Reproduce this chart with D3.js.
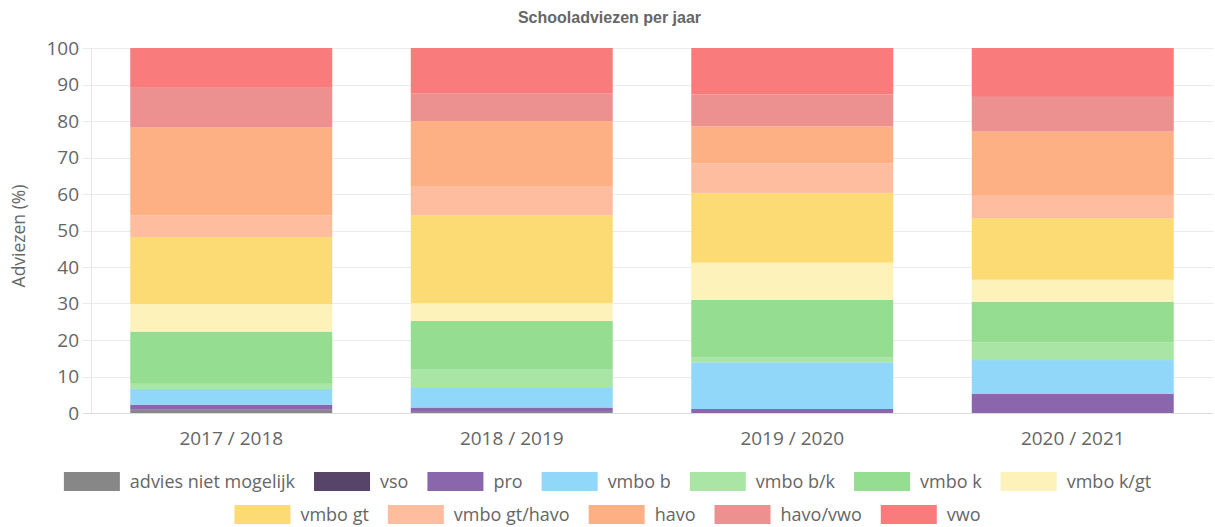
<!DOCTYPE html>
<html>
<head>
<meta charset="utf-8">
<script src="https://cdn.jsdelivr.net/npm/d3@7"></script>
<style>
  body { margin: 0; background: #fff; }
  svg { display: block; font-family: "Open Sans", sans-serif; }
</style>
</head>
<body>
<div id="chart"></div>
<script>
// School years on the x axis
const years = ["2017 / 2018", "2018 / 2019", "2019 / 2020", "2020 / 2021"];
// Advice types, bottom to top of each stack
const adviceTypes = ["advies niet mogelijk", "vso", "pro", "vmbo b", "vmbo b/k", "vmbo k",
   "vmbo k/gt", "vmbo gt", "vmbo gt/havo", "havo", "havo/vwo", "vwo"];
const adviceColors = ["#878787", "#574569", "#8a67ad", "#91d7fa", "#a9e6a6", "#95dd90",
   "#fdf2b9", "#fddb74", "#fdbd9e", "#fcb084", "#ec9090", "#f97b7b"];
// Percentages per advice type, one value per school year
const adviesNietMogelijk = [0.8, 0.3, 0.0, 0.0];
const vso = [0.1, 0.0, 0.0, 0.0];
const pro = [1.4, 1.2, 1.1, 5.2];
const vmboB = [4.3, 5.6, 12.8, 9.3];
const vmboBK = [1.4, 4.75, 1.4, 4.9];
const vmboK = [14.3, 13.35, 15.7, 11.1];
const vmboKGt = [7.5, 4.9, 10.2, 6.0];
const vmboGt = [18.4, 24.0, 19.1, 16.9];
const vmboGtHavo = [5.9, 7.9, 8.1, 6.1];
const havo = [24.1, 18.0, 10.1, 17.6];
const havoVwo = [11.1, 7.5, 8.8, 9.5];
const vwo = [10.7, 12.5, 12.7, 13.4];
const yTicks = [0, 10, 20, 30, 40, 50, 60, 70, 80, 90, 100];

const seriesValues = [adviesNietMogelijk, vso, pro, vmboB, vmboBK, vmboK,
   vmboKGt, vmboGt, vmboGtHavo, havo, havoVwo, vwo];

// Build one row per year for d3.stack
const rows = years.map((y, i) => {
   const row = { year: y };
   adviceTypes.forEach((t, k) => { row[t] = seriesValues[k][i]; });
   return row;
});

const width = 1215;
const height = 527;
const margin = { top: 48, right: 2, bottom: 114, left: 91 };

const svg = d3.select("#chart").append("svg")
   .attr("width", width)
   .attr("height", height);

const x = d3.scaleBand()
   .domain(years)
   .range([margin.left, width - margin.right])
   .paddingInner(0.28)
   .paddingOuter(0.14);

const y = d3.scaleLinear()
   .domain([0, 100])
   .range([height - margin.bottom, margin.top]);

const color = d3.scaleOrdinal().domain(adviceTypes).range(adviceColors);

// grid lines
svg.append("g")
   .selectAll("line")
   .data(yTicks)
   .join("line")
   .attr("x1", margin.left - 8)
   .attr("x2", width - margin.right)
   .attr("y1", d => Math.round(y(d)) + 0.5)
   .attr("y2", d => Math.round(y(d)) + 0.5)
   .attr("stroke", d => d === 0 ? "#dcdcdc" : "#ebebeb")
   .attr("stroke-width", 1);

// y axis line
svg.append("line")
   .attr("x1", margin.left + 0.5).attr("x2", margin.left + 0.5)
   .attr("y1", y(100)).attr("y2", y(0))
   .attr("stroke", "#e6e6e6");

// y axis labels
const yAxis = svg.append("g")
   .attr("transform", `translate(${margin.left - 12},0)`)
   .call(d3.axisLeft(y).tickValues(yTicks).tickSize(0).tickPadding(0));
yAxis.select(".domain").remove();
yAxis.selectAll("text")
   .attr("fill", "#666")
   .style("font-size", "19px")
   .style("font-family", "Open Sans");

// x axis labels
const xAxis = svg.append("g")
   .attr("transform", `translate(0,${height - margin.bottom})`)
   .call(d3.axisBottom(x).tickSize(0).tickPadding(19));
xAxis.select(".domain").remove();
xAxis.selectAll("text")
   .attr("fill", "#666")
   .style("font-size", "19px")
   .style("font-family", "Open Sans");

// stacked bars
const stacked = d3.stack().keys(adviceTypes)(rows);
svg.append("g")
   .selectAll("g")
   .data(stacked)
   .join("g")
   .attr("fill", d => color(d.key))
   .selectAll("rect")
   .data(d => d)
   .join("rect")
   .attr("x", d => x(d.data.year))
   .attr("width", x.bandwidth())
   .attr("y", d => y(d[1]))
   .attr("height", d => y(d[0]) - y(d[1]));

// title
svg.append("text")
   .attr("x", width / 2 + 2)
   .attr("y", 23)
   .attr("text-anchor", "middle")
   .attr("fill", "#666")
   .style("font-family", "Liberation Sans, Arial, sans-serif")
   .style("font-weight", "bold")
   .style("font-size", "16px")
   .text("Schooladviezen per jaar");

// y axis title
svg.append("text")
   .attr("transform", `translate(25,236) rotate(-90)`)
   .attr("text-anchor", "middle")
   .attr("fill", "#666")
   .style("font-size", "17.5px")
   .text("Adviezen (%)");

// legend, wrapped into centred rows
const boxW = 56, boxH = 19, boxGap = 10, itemGap = 19, rowH = 33, maxRow = 1180;
const legend = svg.append("g");
const items = legend.selectAll("g")
   .data(adviceTypes)
   .join("g");
items.append("rect")
   .attr("width", boxW)
   .attr("height", boxH)
   .attr("fill", d => color(d));
items.append("text")
   .attr("x", boxW + boxGap)
   .attr("y", boxH / 2)
   .attr("dy", "0.35em")
   .attr("fill", "#666")
   .style("font-size", "18px")
   .text(d => d);

const legendRows = [];
let current = [];
let rowWidth = 0;
items.each(function () {
   const w = boxW + boxGap + d3.select(this).select("text").node().getComputedTextLength();
   const add = current.length ? itemGap + w : w;
   if (rowWidth + add > maxRow && current.length) {
      legendRows.push({ items: current, width: rowWidth });
      current = [];
      rowWidth = 0;
   }
   current.push({ node: this, w: w });
   rowWidth += current.length > 1 ? itemGap + w : w;
});
legendRows.push({ items: current, width: rowWidth });

legendRows.forEach((r, ri) => {
   let cx = (width - r.width) / 2;
   r.items.forEach(it => {
      d3.select(it.node).attr("transform", `translate(${cx},${472 + ri * rowH})`);
      cx += it.w + itemGap;
   });
});
</script>
</body>
</html>
